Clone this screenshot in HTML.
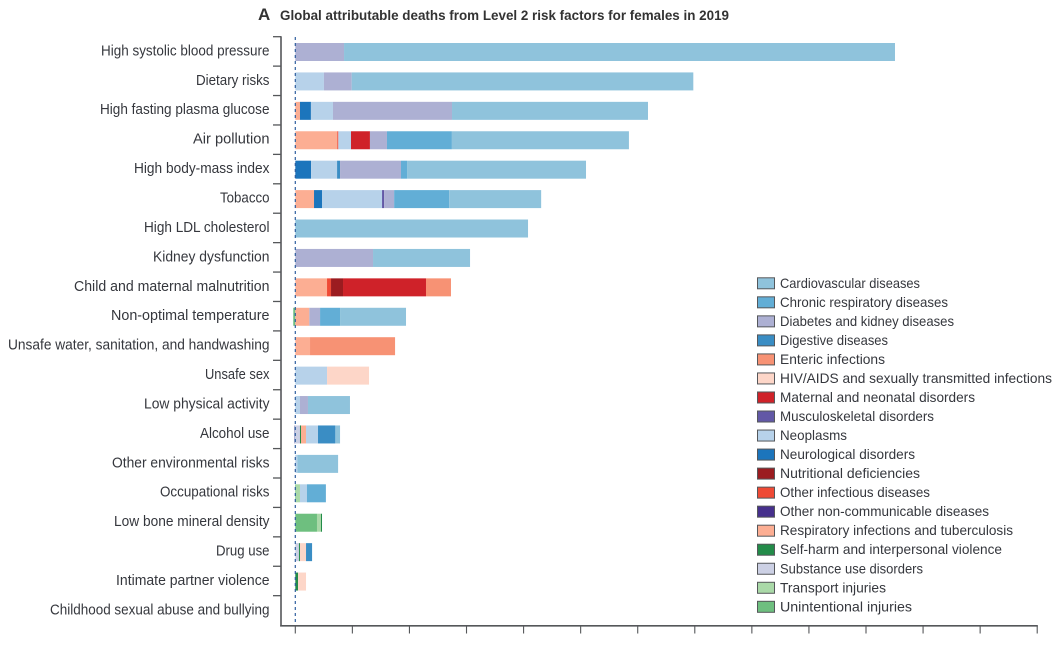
<!DOCTYPE html>
<html lang="en">
<head>
<meta charset="utf-8">
<title>Global attributable deaths from Level 2 risk factors for females in 2019</title>
<style>
html,body{margin:0;padding:0;background:#fff;width:1062px;height:654px;overflow:hidden}
svg{display:block}
text{font-family:"Liberation Sans",sans-serif;fill:#35373d}
</style>
</head>
<body>
<svg id="chart" xmlns="http://www.w3.org/2000/svg" width="1062" height="654" viewBox="0 0 1062 654">
  <text x="258" y="20" font-size="17" font-weight="bold" style="fill:#333">A</text>
  <text x="280" y="20" font-size="13.5" font-weight="bold" textLength="449" lengthAdjust="spacingAndGlyphs" style="fill:#333">Global attributable deaths from Level 2 risk factors for females in 2019</text>
</svg>
<script>
// Risk factors, top to bottom
const riskFactors = ["High systolic blood pressure","Dietary risks","High fasting plasma glucose","Air pollution","High body-mass index","Tobacco","High LDL cholesterol","Kidney dysfunction","Child and maternal malnutrition","Non-optimal temperature","Unsafe water, sanitation, and handwashing","Unsafe sex","Low physical activity","Alcohol use","Other environmental risks","Occupational risks","Low bone mineral density","Drug use","Intimate partner violence","Childhood sexual abuse and bullying"];

// Legend order
const causes = ["Cardiovascular diseases","Chronic respiratory diseases","Diabetes and kidney diseases","Digestive diseases","Enteric infections","HIV/AIDS and sexually transmitted infections","Maternal and neonatal disorders","Musculoskeletal disorders","Neoplasms","Neurological disorders","Nutritional deficiencies","Other infectious diseases","Other non-communicable diseases","Respiratory infections and tuberculosis","Self-harm and interpersonal violence","Substance use disorders","Transport injuries","Unintentional injuries"];
const causeColors = ["#8fc3dc","#62aed6","#adb0d3","#3a8dc4","#f79274","#fdd6c8","#cf2229","#6258a6","#b7d2ea","#1c75bc","#9b1c20","#ef4a35","#46308c","#fcae93","#238b49","#ccd0e4","#aad9a8","#6ebf7f"];

// Estimated deaths (thousands) per cause, one value per risk factor
const cardiovascular  = [4827,2993,1717,1551,1568,806,2039,850,0,578,0,0,368,41,357,0,0,0,0,0];
const chronicResp     = [0,0,0,569,53,482,0,0,0,175,0,0,0,0,0,166,0,0,0,0];
const diabetesKidney  = [427,243,1043,149,534,88,0,681,0,94,0,0,70,-11,0,0,0,0,0,0];
const digestive       = [0,0,0,0,26,0,0,0,0,0,0,0,0,152,0,0,0,53,0,0];
const enteric         = [0,0,0,0,0,0,0,0,219,0,745,0,0,0,0,0,0,0,0,0];
const hivAids         = [0,0,0,0,0,0,0,0,0,0,0,368,0,0,0,0,0,53,70,0];
const maternal        = [0,0,0,166,0,0,0,0,727,0,0,0,0,0,0,0,0,0,0,0];
const musculoskeletal = [0,0,0,0,0,18,0,0,0,0,0,0,0,0,0,0,0,0,0,0];
const neoplasms       = [0,251,193,111,228,526,0,0,0,0,0,278,41,105,18,61,0,0,0,0];
const neurological    = [0,0,96,0,138,70,0,0,0,0,0,0,0,0,0,0,0,0,0,0];
const nutritional     = [0,0,0,0,0,0,0,0,105,0,0,0,0,0,0,0,0,0,0,0];
const otherInfectious = [0,0,0,9,0,0,0,0,35,0,0,0,0,0,0,0,0,0,0,0];
const otherNonComm    = [0,0,0,0,0,0,0,0,0,0,0,0,0,0,0,0,0,0,0,0];
const respiratory     = [0,0,41,368,0,164,0,0,278,123,129,0,0,44,0,0,0,0,0,0];
const selfHarm        = [0,0,0,0,0,0,0,0,0,0,0,0,0,9,0,0,9,9,24,0];
const substanceUse    = [0,0,0,0,0,0,0,0,0,0,0,0,0,41,0,0,0,32,0,0];
const transport       = [0,0,0,0,0,0,0,0,0,0,0,0,0,0,0,35,35,0,0,0];
const unintentional   = [0,0,0,0,0,0,0,0,0,-18,0,0,0,0,0,6,190,0,0,0];

const seriesValues = [cardiovascular,chronicResp,diabetesKidney,digestive,enteric,hivAids,maternal,musculoskeletal,neoplasms,neurological,nutritional,otherInfectious,otherNonComm,respiratory,selfHarm,substanceUse,transport,unintentional];

// X-axis ticks in thousands of deaths (unlabelled in the figure)
const xTicks = [0,500,1000,1500,2000,2500,3000,3500,4000,4500,5000,5500,6000,6500];

// Typography fit only: rendered label widths, to mimic the original typeface's metrics
function fitRisk(i) { return [168.5,73.5,169.5,76.5,135.5,49.5,125.5,116.5,195.5,158.5,261.5,64.5,125.5,69.5,157.5,109.5,155.5,53.5,153.5,219.5][i]; }
function fitCause(i) { return [140,168,174,108,105,272,195,154,67,135,140,150,209,233,222,143,106,132][i]; }

const svg = document.getElementById('chart');
const NS = 'http://www.w3.org/2000/svg';
const x = v => 295.3 + v * 57.07 / 500;
const rowCentre = i => 52 + i * 29.42;
const barH = 18;
const slug = s => s.toLowerCase().replace(/[^a-z0-9]+/g, '-').replace(/^-|-$/g, '');

function make(tag, attrs, parent) {
  const el = document.createElementNS(NS, tag);
  for (const k in attrs) el.setAttribute(k, attrs[k]);
  (parent || svg).appendChild(el);
  return el;
}

// Bars: stacked from zero in reverse legend order; negative values go left of zero
riskFactors.forEach((risk, r) => {
  const group = make('g', {});
  
  
  let pos = 0, neg = 0;
  for (let c = causes.length - 1; c >= 0; c--) {
    const v = seriesValues[c][r];
    if (!v) continue;
    let start;
    if (v > 0) { start = pos; pos += v; } else { neg += v; start = neg; }
    const seg = make('rect', {
      x: x(start), y: rowCentre(r) - barH / 2,
      width: x(Math.abs(v)) - x(0), height: barH,
      fill: causeColors[c]
    }, group);
    
    
  }
});

// Zero reference line
const zeroLine = make('line', {x1: x(0), x2: x(0), y1: 37, y2: 626, stroke: '#2f5f9e', 'stroke-width': 1.2, 'stroke-dasharray': '3 3'});



// Y axis
const yAxis = make('line', {x1: 281, x2: 281, y1: 36.2, y2: 626.5, stroke: '#55575a', 'stroke-width': 1.6});



riskFactors.forEach((risk, r) => {
  const tick = make('line', {x1: 273, x2: 281, y1: rowCentre(r) - 15.3, y2: rowCentre(r) - 15.3, stroke: '#55575a', 'stroke-width': 1.3});
  
  
  const label = make('text', {x: 269.5, y: rowCentre(r) + 3.4, 'text-anchor': 'end', 'font-size': 14.5, textLength: fitRisk(r), lengthAdjust: 'spacingAndGlyphs'});
  label.textContent = risk;
  
  
});

// X axis
const xAxis = make('line', {x1: 280.2, x2: x(6500) + 0.6, y1: 625.8, y2: 625.8, stroke: '#55575a', 'stroke-width': 1.6});



xTicks.forEach(t => {
  const tick = make('line', {x1: x(t), x2: x(t), y1: 625.8, y2: 633.5, stroke: '#55575a', 'stroke-width': 1.1});
  
  
});

// Legend
causes.forEach((cause, i) => {
  const cy = 283.3 + i * 19.03;
  const entry = make('g', {});
  
  
  const swatch = make('rect', {x: 757.5, y: cy - 5.5, width: 17, height: 11, fill: causeColors[i], stroke: '#55575a', 'stroke-width': 1}, entry);
  
  
  const label = make('text', {x: 780, y: cy + 4.5, 'font-size': 14, textLength: fitCause(i), lengthAdjust: 'spacingAndGlyphs'}, entry);
  label.textContent = cause;
  
  
});
</script>
</body>
</html>
